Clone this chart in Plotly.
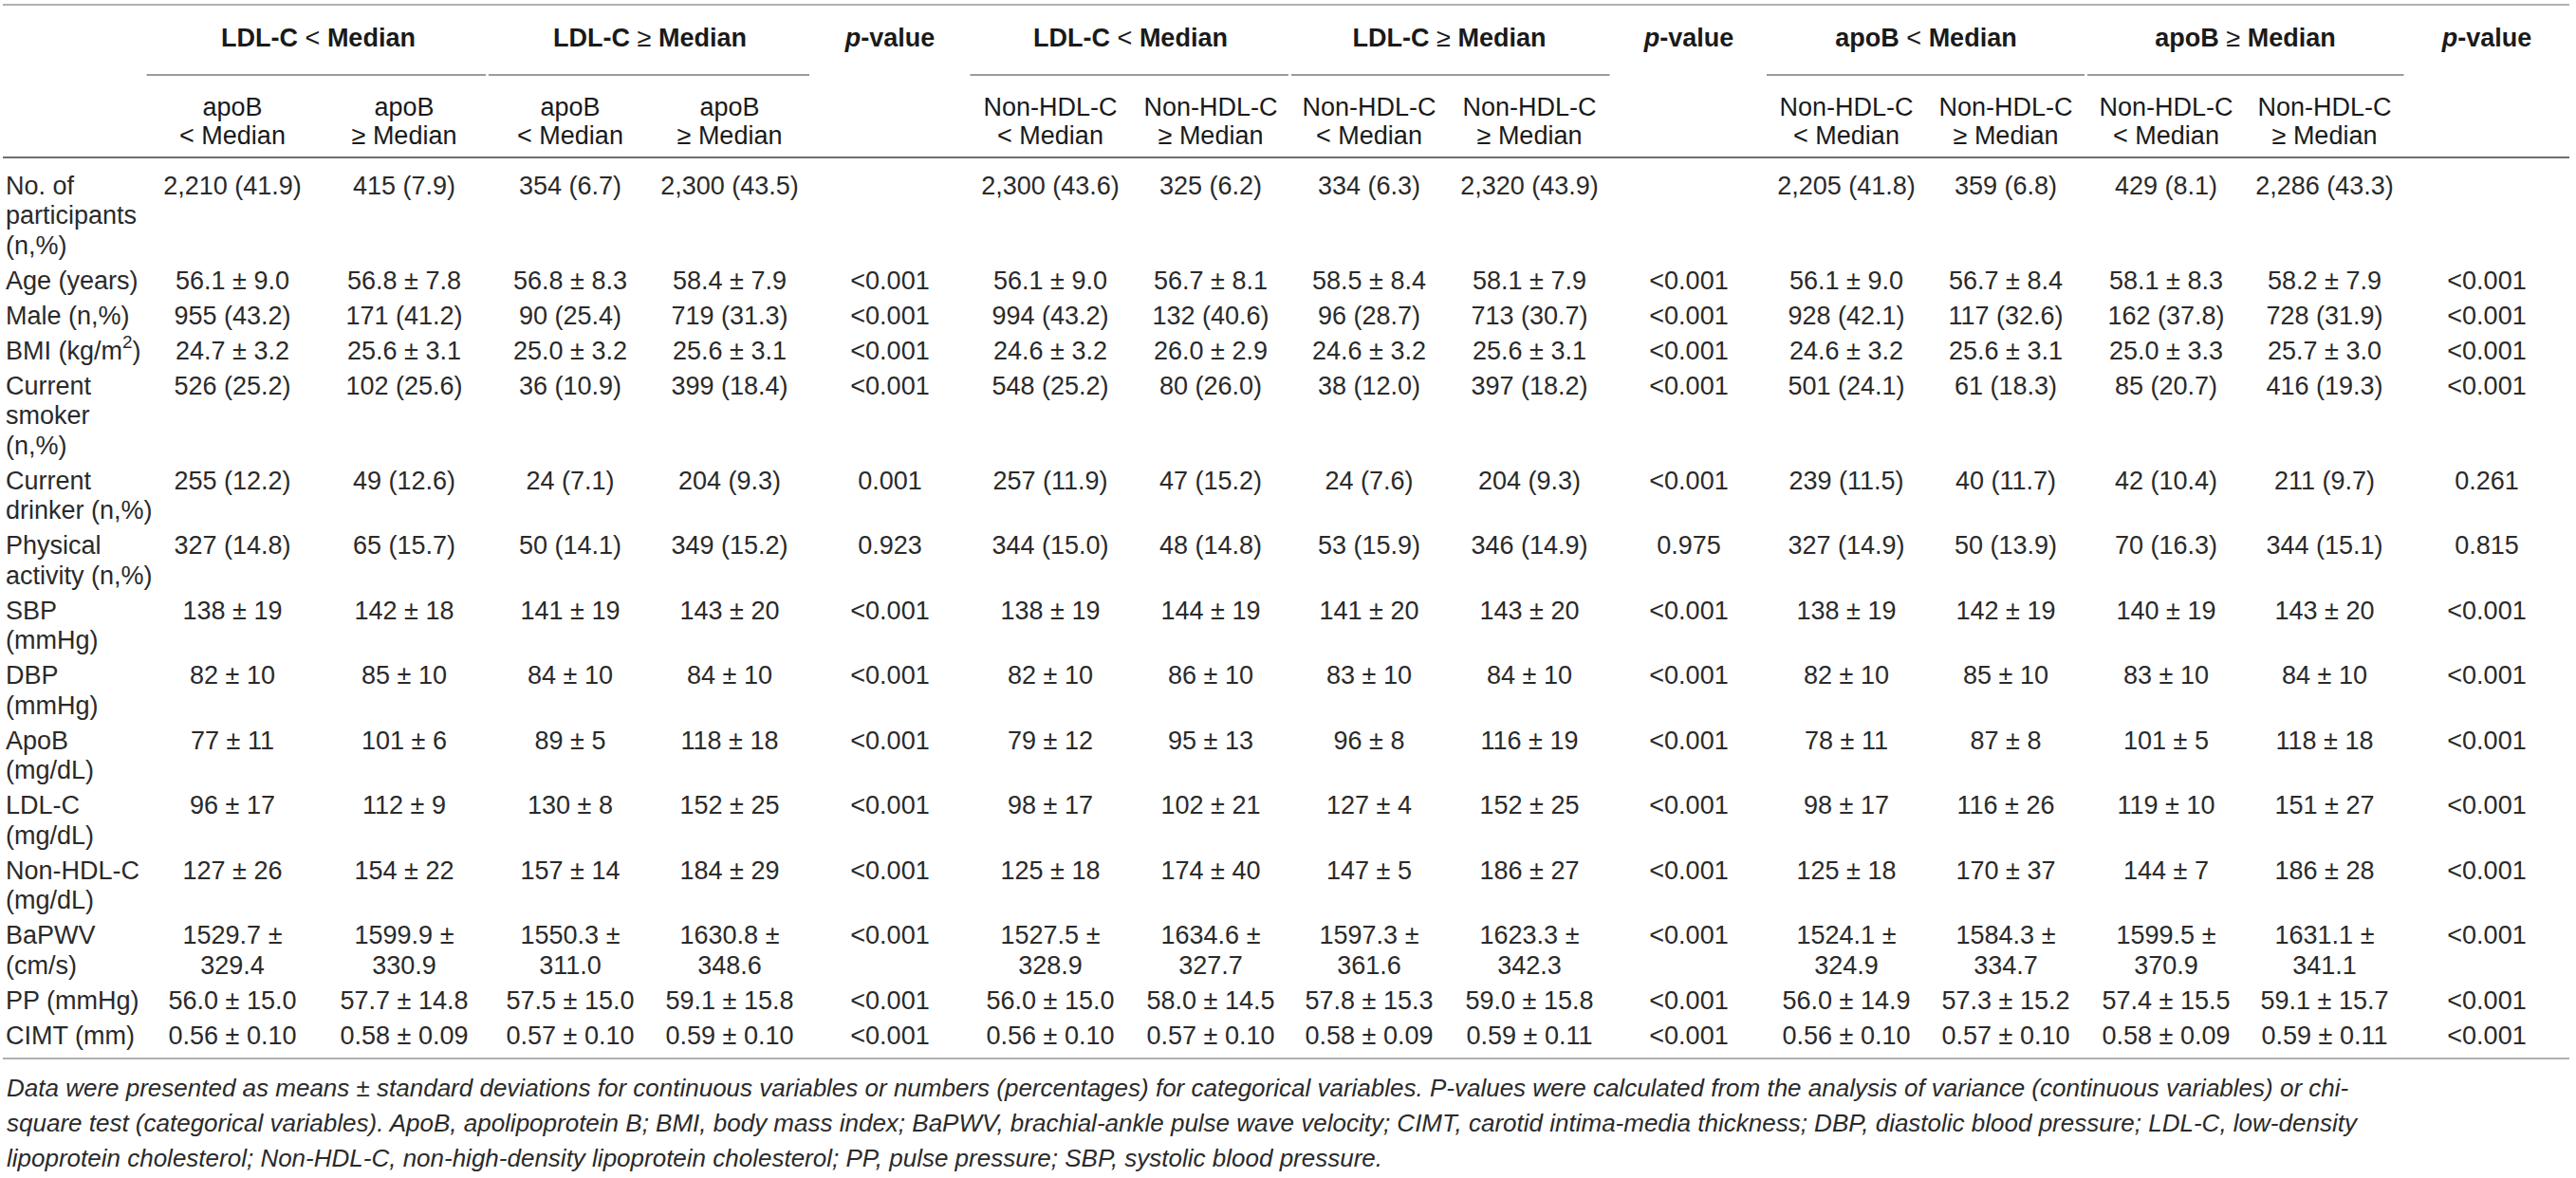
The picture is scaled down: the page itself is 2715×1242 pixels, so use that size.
import plotly.graph_objects as go

# ---- table content ----
row_labels = [
    "No. of\nparticipants\n(n,%)",
    "Age (years)",
    "Male (n,%)",
    "BMI (kg/m<sup>2</sup>)",
    "Current\nsmoker\n(n,%)",
    "Current\ndrinker (n,%)",
    "Physical\nactivity (n,%)",
    "SBP\n(mmHg)",
    "DBP\n(mmHg)",
    "ApoB\n(mg/dL)",
    "LDL-C\n(mg/dL)",
    "Non-HDL-C\n(mg/dL)",
    "BaPWV\n(cm/s)",
    "PP (mmHg)",
    "CIMT (mm)",
]

group_titles = [
    ["LDL-C < Median", "LDL-C ≥ Median"],
    ["LDL-C < Median", "LDL-C ≥ Median"],
    ["apoB < Median", "apoB ≥ Median"],
]
sub_titles = [
    ["apoB\n< Median", "apoB\n≥ Median", "apoB\n< Median", "apoB\n≥ Median"],
    ["Non-HDL-C\n< Median", "Non-HDL-C\n≥ Median", "Non-HDL-C\n< Median", "Non-HDL-C\n≥ Median"],
    ["Non-HDL-C\n< Median", "Non-HDL-C\n≥ Median", "Non-HDL-C\n< Median", "Non-HDL-C\n≥ Median"],
]

# LDL-C x apoB
ldl_apob = [
    ["2,210 (41.9)", "415 (7.9)", "354 (6.7)", "2,300 (43.5)"],
    ["56.1 ± 9.0", "56.8 ± 7.8", "56.8 ± 8.3", "58.4 ± 7.9"],
    ["955 (43.2)", "171 (41.2)", "90 (25.4)", "719 (31.3)"],
    ["24.7 ± 3.2", "25.6 ± 3.1", "25.0 ± 3.2", "25.6 ± 3.1"],
    ["526 (25.2)", "102 (25.6)", "36 (10.9)", "399 (18.4)"],
    ["255 (12.2)", "49 (12.6)", "24 (7.1)", "204 (9.3)"],
    ["327 (14.8)", "65 (15.7)", "50 (14.1)", "349 (15.2)"],
    ["138 ± 19", "142 ± 18", "141 ± 19", "143 ± 20"],
    ["82 ± 10", "85 ± 10", "84 ± 10", "84 ± 10"],
    ["77 ± 11", "101 ± 6", "89 ± 5", "118 ± 18"],
    ["96 ± 17", "112 ± 9", "130 ± 8", "152 ± 25"],
    ["127 ± 26", "154 ± 22", "157 ± 14", "184 ± 29"],
    ["1529.7 ± 329.4", "1599.9 ± 330.9", "1550.3 ± 311.0", "1630.8 ± 348.6"],
    ["56.0 ± 15.0", "57.7 ± 14.8", "57.5 ± 15.0", "59.1 ± 15.8"],
    ["0.56 ± 0.10", "0.58 ± 0.09", "0.57 ± 0.10", "0.59 ± 0.10"],
]
ldl_apob_p = ["", "<0.001", "<0.001", "<0.001", "<0.001", "0.001", "0.923",
              "<0.001", "<0.001", "<0.001", "<0.001", "<0.001", "<0.001", "<0.001", "<0.001"]

# LDL-C x Non-HDL-C
ldl_nonhdl = [
    ["2,300 (43.6)", "325 (6.2)", "334 (6.3)", "2,320 (43.9)"],
    ["56.1 ± 9.0", "56.7 ± 8.1", "58.5 ± 8.4", "58.1 ± 7.9"],
    ["994 (43.2)", "132 (40.6)", "96 (28.7)", "713 (30.7)"],
    ["24.6 ± 3.2", "26.0 ± 2.9", "24.6 ± 3.2", "25.6 ± 3.1"],
    ["548 (25.2)", "80 (26.0)", "38 (12.0)", "397 (18.2)"],
    ["257 (11.9)", "47 (15.2)", "24 (7.6)", "204 (9.3)"],
    ["344 (15.0)", "48 (14.8)", "53 (15.9)", "346 (14.9)"],
    ["138 ± 19", "144 ± 19", "141 ± 20", "143 ± 20"],
    ["82 ± 10", "86 ± 10", "83 ± 10", "84 ± 10"],
    ["79 ± 12", "95 ± 13", "96 ± 8", "116 ± 19"],
    ["98 ± 17", "102 ± 21", "127 ± 4", "152 ± 25"],
    ["125 ± 18", "174 ± 40", "147 ± 5", "186 ± 27"],
    ["1527.5 ± 328.9", "1634.6 ± 327.7", "1597.3 ± 361.6", "1623.3 ± 342.3"],
    ["56.0 ± 15.0", "58.0 ± 14.5", "57.8 ± 15.3", "59.0 ± 15.8"],
    ["0.56 ± 0.10", "0.57 ± 0.10", "0.58 ± 0.09", "0.59 ± 0.11"],
]
ldl_nonhdl_p = ["", "<0.001", "<0.001", "<0.001", "<0.001", "<0.001", "0.975",
                "<0.001", "<0.001", "<0.001", "<0.001", "<0.001", "<0.001", "<0.001", "<0.001"]

# apoB x Non-HDL-C
apob_nonhdl = [
    ["2,205 (41.8)", "359 (6.8)", "429 (8.1)", "2,286 (43.3)"],
    ["56.1 ± 9.0", "56.7 ± 8.4", "58.1 ± 8.3", "58.2 ± 7.9"],
    ["928 (42.1)", "117 (32.6)", "162 (37.8)", "728 (31.9)"],
    ["24.6 ± 3.2", "25.6 ± 3.1", "25.0 ± 3.3", "25.7 ± 3.0"],
    ["501 (24.1)", "61 (18.3)", "85 (20.7)", "416 (19.3)"],
    ["239 (11.5)", "40 (11.7)", "42 (10.4)", "211 (9.7)"],
    ["327 (14.9)", "50 (13.9)", "70 (16.3)", "344 (15.1)"],
    ["138 ± 19", "142 ± 19", "140 ± 19", "143 ± 20"],
    ["82 ± 10", "85 ± 10", "83 ± 10", "84 ± 10"],
    ["78 ± 11", "87 ± 8", "101 ± 5", "118 ± 18"],
    ["98 ± 17", "116 ± 26", "119 ± 10", "151 ± 27"],
    ["125 ± 18", "170 ± 37", "144 ± 7", "186 ± 28"],
    ["1524.1 ± 324.9", "1584.3 ± 334.7", "1599.5 ± 370.9", "1631.1 ± 341.1"],
    ["56.0 ± 14.9", "57.3 ± 15.2", "57.4 ± 15.5", "59.1 ± 15.7"],
    ["0.56 ± 0.10", "0.57 ± 0.10", "0.58 ± 0.09", "0.59 ± 0.11"],
]
apob_nonhdl_p = ["", "<0.001", "<0.001", "<0.001", "<0.001", "0.261", "0.815",
                 "<0.001", "<0.001", "<0.001", "<0.001", "<0.001", "<0.001", "<0.001", "<0.001"]

footnote = [
    "Data were presented as means ± standard deviations for continuous variables or numbers (percentages) for categorical variables. "
    "P-values were calculated from the analysis of variance (continuous variables) or chi-",
    "square test (categorical variables). ApoB, apolipoprotein B; BMI, body mass index; BaPWV, brachial-ankle pulse wave velocity; "
    "CIMT, carotid intima-media thickness; DBP, diastolic blood pressure; LDL-C, low-density",
    "lipoprotein cholesterol; Non-HDL-C, non-high-density lipoprotein cholesterol; PP, pulse pressure; SBP, systolic blood pressure.",
]

groups = [ldl_apob, ldl_nonhdl, apob_nonhdl]
pvals = [ldl_apob_p, ldl_nonhdl_p, apob_nonhdl_p]

# ---- layout (pixels) ----
W, H = 2715, 1242
col_x = [[245, 426, 601, 769], [1107, 1276, 1443, 1612], [1946, 2114, 2283, 2450]]
p_x = [938, 1780, 2621]
label_x = 6
head_y = 42
rule_under_head = 79
sub_y = 115
sub_gap = 30
head_rule = 166
first_y = 198
line_gap = 31.5
row_pad = 37
bottom_rule = 1116
foot_y = 1147
foot_gap = 37

FONT = "Liberation Sans, Arial, Helvetica, sans-serif"
TXT = "#2a2a2a"
FS = 27


def esc(s):
    return s.replace("<0", "&lt;0").replace("< ", "&lt; ")


def wrap(s):
    # long mean ± sd cells break after the ± sign
    if len(s) > 12 and "± " in s:
        return s.replace("± ", "±\n")
    return s


row_y = []
y = first_y
for lab in row_labels:
    row_y.append(y)
    y += row_pad + line_gap * lab.count("\n")

lx, ly, lt = [], [], []
for lab, ry in zip(row_labels, row_y):
    for k, part in enumerate(lab.split("\n")):
        lx.append(label_x)
        ly.append(ry + k * line_gap)
        lt.append(part)

vx, vy, vt = [], [], []
for g, rows in enumerate(groups):
    for r, cells in enumerate(rows):
        for c, cell in enumerate(cells):
            for k, part in enumerate(wrap(cell).split("\n")):
                vx.append(col_x[g][c])
                vy.append(row_y[r] + k * line_gap)
                vt.append(esc(part))
        if pvals[g][r]:
            vx.append(p_x[g])
            vy.append(row_y[r])
            vt.append(esc(pvals[g][r]))

hx, hy, ht = [], [], []
for g in range(3):
    for j, title in enumerate(group_titles[g]):
        a, op, b = title.split(" ", 2)
        hx.append((col_x[g][2 * j] + col_x[g][2 * j + 1]) / 2)
        hy.append(head_y)
        ht.append(f"<b>{a}</b> {esc(op + ' ')}<b>{b}</b>")
    hx.append(p_x[g])
    hy.append(head_y)
    ht.append("<b><i>p</i>-value</b>")
    for c, sub in enumerate(sub_titles[g]):
        for k, part in enumerate(sub.split("\n")):
            hx.append(col_x[g][c])
            hy.append(sub_y + k * sub_gap)
            ht.append(esc(part))

fig = go.Figure()
fig.add_trace(go.Scatter(x=lx, y=ly, text=lt, mode="text", textposition="middle right",
                         textfont=dict(family=FONT, size=FS, color=TXT), hoverinfo="skip"))
fig.add_trace(go.Scatter(x=vx, y=vy, text=vt, mode="text", textposition="middle center",
                         textfont=dict(family=FONT, size=FS, color=TXT), hoverinfo="skip"))
fig.add_trace(go.Scatter(x=hx, y=hy, text=ht, mode="text", textposition="middle center",
                         textfont=dict(family=FONT, size=FS, color="#1a1a1a"), hoverinfo="skip"))

# horizontal rules
for yy, col, wd in [(5, "#b0b0b0", 2), (head_rule, "#6e6e6e", 2), (bottom_rule, "#b0b0b0", 2)]:
    fig.add_shape(type="line", x0=3, x1=2708, y0=yy, y1=yy, line=dict(color=col, width=wd))

# underlines below the group titles
for g in range(3):
    cx = col_x[g]
    mid = (cx[1] + cx[2]) / 2
    left = cx[0] - (cx[1] - cx[0]) / 2
    right = cx[3] + (cx[3] - cx[2]) / 2
    for a, b in [(left, mid - 1.5), (mid + 1.5, right)]:
        fig.add_shape(type="line", x0=a, x1=b, y0=rule_under_head, y1=rule_under_head,
                      line=dict(color="#7a7a7a", width=1.5))

for i, line in enumerate(footnote):
    fig.add_annotation(x=5, y=foot_y + i * foot_gap, text=f"<i>{line}</i>", showarrow=False,
                       xanchor="left", yanchor="middle", align="left",
                       font=dict(family=FONT, size=26, color=TXT))

fig.update_layout(
    width=W, height=H,
    margin=dict(l=0, r=0, t=0, b=0),
    paper_bgcolor="white", plot_bgcolor="white",
    showlegend=False,
    xaxis=dict(range=[0, W], visible=False, fixedrange=True),
    yaxis=dict(range=[H, 0], visible=False, fixedrange=True),
)

fig.write_html("out.html", config={"displayModeBar": False},
               post_script="document.body.style.margin='0';document.body.style.overflow='hidden';")
